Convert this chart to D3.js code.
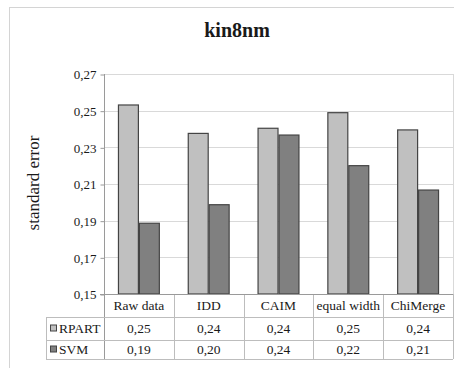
<!DOCTYPE html>
<html>
<head>
<meta charset="utf-8">
<script src="https://cdn.jsdelivr.net/npm/d3@7"></script>
<style>
  html, body { margin: 0; padding: 0; background: #fff; }
  svg { display: block; }
  text { font-family: "Liberation Serif", "Times New Roman", serif; fill: #1a1a1a; }
</style>
</head>
<body>
<svg id="chart" width="454" height="368"></svg>
<script>
// Discretization methods compared on kin8nm
const categories = ["Raw data", "IDD", "CAIM", "equal width", "ChiMerge"];
const seriesNames = ["RPART", "SVM"];
const rpartValues = [0.2531, 0.2376, 0.2404, 0.2489, 0.2395];
const svmValues = [0.1886, 0.1987, 0.2367, 0.2200, 0.2067];
const yTicks = [0.15, 0.17, 0.19, 0.21, 0.23, 0.25, 0.27];
const seriesColors = ["#c0c0c0", "#808080"];

const seriesValues = [rpartValues, svmValues];
const fmt = v => d3.format(".2f")(v).replace(".", ",");

const svg = d3.select("#chart");

// chart frame
svg.append("rect")
  .attr("x", 9.5).attr("y", 7.5)
  .attr("width", 460).attr("height", 380)
  .attr("fill", "#fff").attr("stroke", "#d4d4d4");

const plotLeft = 104, plotRight = 453, plotTop = 74, plotBottom = 294;
const rowH = [294, 317, 340, 359];
const legendLeft = 46;

const y = d3.scaleLinear().domain([0.15, 0.27]).range([plotBottom, plotTop]);
const x = d3.scaleBand().domain(categories).range([plotLeft, plotRight])
  .paddingInner(0.4).paddingOuter(0.2);
const xs = d3.scaleBand().domain(seriesNames).range([0, x.bandwidth()]);

// title
svg.append("text")
  .attr("x", 237).attr("y", 37)
  .attr("text-anchor", "middle")
  .style("font-size", "20px").style("font-weight", "bold")
  .text("kin8nm");

// y axis label
svg.append("text")
  .attr("transform", `translate(39,${(plotTop + plotBottom) / 2 - 1}) rotate(-90)`)
  .attr("text-anchor", "middle")
  .style("font-size", "17px")
  .text("standard error");

// gridlines
svg.append("g").selectAll("line").data(yTicks.filter(t => t > 0.15)).join("line")
  .attr("x1", plotLeft).attr("x2", plotRight)
  .attr("y1", d => Math.round(y(d)) + 0.5).attr("y2", d => Math.round(y(d)) + 0.5)
  .attr("stroke", "#d9d9d9");

// right edge of plot area
svg.append("line")
  .attr("x1", plotRight + 0.5).attr("x2", plotRight + 0.5)
  .attr("y1", plotTop).attr("y2", plotBottom)
  .attr("stroke", "#d9d9d9");

// y axis
const yAxis = d3.axisLeft(y).tickValues(yTicks).tickSize(4).tickPadding(4).tickFormat(fmt);
const gy = svg.append("g").attr("transform", `translate(${plotLeft + 0.5},0.5)`).call(yAxis);
gy.attr("font-family", null).attr("font-size", null);
gy.select(".domain").remove();
gy.selectAll(".tick line").attr("stroke", "#9a9a9a");
gy.selectAll(".tick text").style("font-size", "13px").attr("fill", "#1a1a1a");

// bars
const groups = svg.append("g").selectAll("g").data(categories).join("g")
  .attr("transform", d => `translate(${x(d)},0)`);
groups.selectAll("rect").data((d, i) => seriesNames.map((s, j) => ({ s, j, v: seriesValues[j][i] })))
  .join("rect")
  .attr("x", d => xs(d.s) + 0.5)
  .attr("y", d => y(d.v))
  .attr("width", xs.bandwidth() - 1)
  .attr("height", d => plotBottom - y(d.v))
  .attr("fill", d => seriesColors[d.j])
  .attr("stroke", "#444")
  .attr("stroke-width", 1.2);

// data table lines
const tbl = svg.append("g").attr("stroke", "#bdbdbd").attr("fill", "none");
// vertical axis line running through the table
tbl.append("line").attr("x1", plotLeft + 0.5).attr("x2", plotLeft + 0.5)
  .attr("y1", plotTop).attr("y2", rowH[3]).attr("stroke", "#9a9a9a");
// category column separators
const colEdges = categories.map((c, i) => plotLeft + i * x.step()).slice(1).concat([plotRight]);
tbl.selectAll(".col").data(colEdges).join("line")
  .attr("x1", d => Math.round(d) + 0.5).attr("x2", d => Math.round(d) + 0.5)
  .attr("y1", rowH[0]).attr("y2", rowH[3]);
// horizontal axis / rows
tbl.append("line").attr("x1", plotLeft - 4).attr("x2", plotRight)
  .attr("y1", rowH[0] + 0.5).attr("y2", rowH[0] + 0.5).attr("stroke", "#9a9a9a");
tbl.selectAll(".row").data(rowH.slice(1)).join("line")
  .attr("x1", legendLeft).attr("x2", plotRight)
  .attr("y1", d => d + 0.5).attr("y2", d => d + 0.5);
tbl.append("line").attr("x1", legendLeft + 0.5).attr("x2", legendLeft + 0.5)
  .attr("y1", rowH[1]).attr("y2", rowH[3]);

// category header row
svg.append("g").selectAll("text").data(categories).join("text")
  .attr("x", d => plotLeft + (categories.indexOf(d) + 0.5) * x.step())
  .attr("y", (rowH[0] + rowH[1]) / 2 + 4.5)
  .attr("text-anchor", "middle")
  .style("font-size", "13.5px")
  .text(d => d);

// series rows: legend key + values
seriesNames.forEach((s, j) => {
  const top = rowH[j + 1], bot = rowH[j + 2];
  const cy = (top + bot) / 2;
  svg.append("rect")
    .attr("x", 50.5).attr("y", cy - 3.5)
    .attr("width", 6).attr("height", 6)
    .attr("fill", seriesColors[j]).attr("stroke", "#444");
  svg.append("text")
    .attr("x", 59).attr("y", cy + 4.5)
    .style("font-size", "13.5px")
    .text(s);
  svg.append("g").selectAll("text").data(seriesValues[j]).join("text")
    .attr("x", (d, i) => plotLeft + (i + 0.5) * x.step())
    .attr("y", cy + 4.5)
    .attr("text-anchor", "middle")
    .style("font-size", "13.5px")
    .text(d => fmt(d));
});
</script>
</body>
</html>
